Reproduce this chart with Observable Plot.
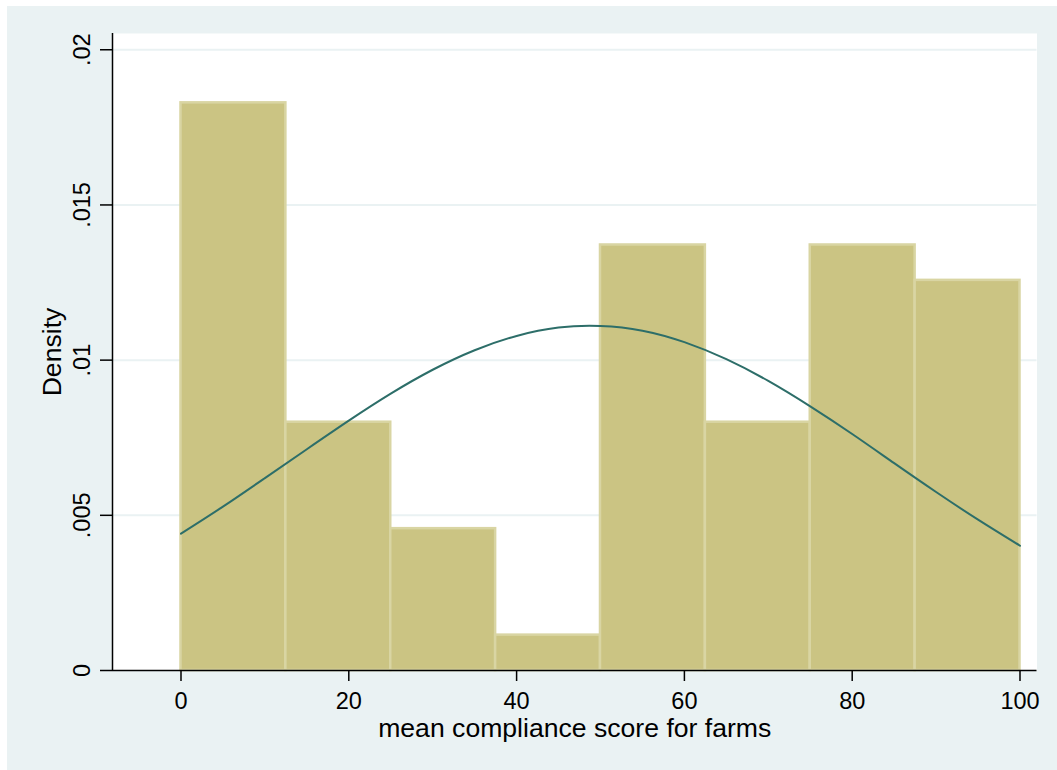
<!DOCTYPE html>
<html>
<head>
<meta charset="utf-8">
<script src="https://cdn.jsdelivr.net/npm/d3@7"></script>
<script src="https://cdn.jsdelivr.net/npm/@observablehq/plot@0.6"></script>
<style>
  html, body { margin: 0; padding: 0; background: #ffffff; }
  #chart { padding: 6px 0 0 7px; width: 1050px; height: 764px; }
  svg { display: block; }
</style>
</head>
<body>
<div id="chart"></div>
<script>
// Histogram bins (mean compliance score for farms)
const binStart = [0, 12.5, 25, 37.5, 50, 62.5, 75, 87.5];
const binEnd   = [12.5, 25, 37.5, 50, 62.5, 75, 87.5, 100];
const density  = [0.01829, 0.00800, 0.00457, 0.00114, 0.01371, 0.00800, 0.01371, 0.01257];

// Normal density overlay
const curveX = [0, 5, 10, 15, 20, 25, 30, 35, 40, 45, 50, 55, 60, 65, 70, 75, 80, 85, 90, 95, 100];
const curveY = [0.00441, 0.00528, 0.00620, 0.00713, 0.00805, 0.00892, 0.00969, 0.01032, 0.01078, 0.01105,
                0.01110, 0.01095, 0.01058, 0.01003, 0.00933, 0.00851, 0.00762, 0.00668, 0.00575, 0.00486, 0.00402];

// Tick labels
const xTicks = [0, 20, 40, 60, 80, 100];
const yTicks = [0, 0.005, 0.01, 0.015, 0.02];
const yTickLabels = ["0", ".005", ".01", ".015", ".02"];
const xTitle = "mean compliance score for farms";
const yTitle = "Density";

const bars = binStart.map((s, i) => ({x1: s, x2: binEnd[i], y: density[i]}));
const curve = curveX.map((x, i) => ({x, y: curveY[i]}));
const yLab = yTicks.map((v, i) => ({v, t: yTickLabels[i]}));

const xDomain = [-8.164, 102.026];
const yDomain = [0, 0.020524];
const font = "'Liberation Sans', Arial, Helvetica, sans-serif";

const chart = Plot.plot({
  width: 1050,
  height: 764,
  marginLeft: 105,
  marginRight: 20.5,
  marginTop: 27,
  marginBottom: 100,
  style: {background: "#EAF2F3", fontFamily: font, color: "#000"},
  x: {domain: xDomain, axis: null},
  y: {domain: yDomain, axis: null},
  marks: [
    Plot.frame({fill: "#ffffff", stroke: null}),
    Plot.ruleY(yTicks.filter(d => d > 0), {stroke: "#EAF2F3", strokeWidth: 2}),
    Plot.rectY(bars, {x1: "x1", x2: "x2", y: "y", fill: "#CBC483", stroke: "#D9D5A3", strokeWidth: 2.5, inset: 0}),
    Plot.line(curve, {x: "x", y: "y", stroke: "#2D6E69", strokeWidth: 2, curve: "natural"}),
    Plot.ruleX([xDomain[0]], {stroke: "#000", strokeWidth: 1.5}),
    Plot.ruleY([0], {stroke: "#000", strokeWidth: 1.5}),
    Plot.axisY(yTicks, {tickSize: 12, tickFormat: () => "", label: null, stroke: "#000", strokeWidth: 1.5}),
    Plot.axisX(xTicks, {tickSize: 11, tickFormat: () => "", label: null, stroke: "#000", strokeWidth: 1.5}),
    Plot.text(yLab, {y: "v", text: "t", frameAnchor: "left", dx: -30, rotate: -90,
      textAnchor: "middle", lineAnchor: "middle", fontSize: 23.5, fill: "#000", fontFamily: font}),
    Plot.text(xTicks, {x: d => d, text: d => String(d), frameAnchor: "bottom", dy: 22,
      textAnchor: "middle", lineAnchor: "top", fontSize: 23.5, fill: "#000", fontFamily: font}),
    Plot.text([xTitle], {frameAnchor: "bottom", dy: 47.5, lineAnchor: "top", textAnchor: "middle",
      fontSize: 26.6, fill: "#000", fontFamily: font}),
    Plot.text([yTitle], {frameAnchor: "left", dx: -60, rotate: -90, lineAnchor: "middle", textAnchor: "middle",
      fontSize: 26.6, fill: "#000", fontFamily: font})
  ]
});
document.getElementById("chart").appendChild(chart);
</script>
</body>
</html>
